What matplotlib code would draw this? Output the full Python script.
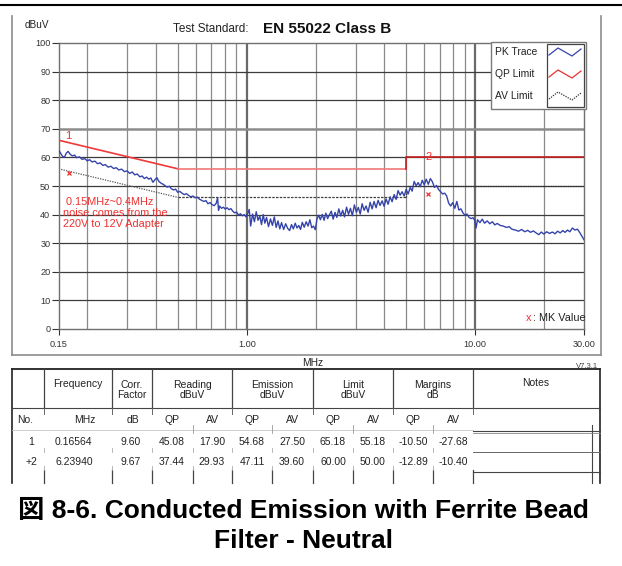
import matplotlib
matplotlib.use("Agg")

import matplotlib.pyplot as plt
from matplotlib.lines import Line2D
from matplotlib.patches import Rectangle

plt.rcParams['font.family'] = ['Liberation Sans', 'Noto Sans CJK JP']

W, H = 622, 566

# --- PK trace (MHz, dBuV) ---
pk_freq = [
    0.150, 0.153, 0.156, 0.159, 0.162, 0.165, 0.168, 0.172, 0.176, 0.180,
    0.185, 0.190, 0.195, 0.200, 0.205, 0.210, 0.216, 0.222, 0.228, 0.234,
    0.240, 0.247, 0.254, 0.261, 0.268, 0.275, 0.283, 0.291, 0.299, 0.307,
    0.315, 0.323, 0.331, 0.340, 0.348, 0.356, 0.364, 0.372, 0.380, 0.388,
    0.396, 0.404, 0.412, 0.421, 0.430, 0.439, 0.448, 0.458, 0.468, 0.478,
    0.488, 0.498, 0.509, 0.520, 0.532, 0.544, 0.556, 0.568, 0.581, 0.594,
    0.607, 0.620, 0.634, 0.648, 0.662, 0.676, 0.690, 0.705, 0.720, 0.735,
    0.745, 0.752, 0.760, 0.775, 0.790, 0.805, 0.820, 0.836, 0.852, 0.868,
    0.885, 0.902, 0.920, 0.938, 0.956, 0.975, 0.993, 1.010, 1.025, 1.040,
    1.060, 1.080, 1.100, 1.120, 1.140, 1.160, 1.180, 1.200, 1.220, 1.245,
    1.270, 1.295, 1.320, 1.345, 1.370, 1.395, 1.420, 1.450, 1.480, 1.510,
    1.540, 1.570, 1.600, 1.630, 1.660, 1.690, 1.720, 1.750, 1.785, 1.820,
    1.855, 1.890, 1.925, 1.960, 1.995, 2.030, 2.065, 2.100, 2.140, 2.180,
    2.220, 2.260, 2.300, 2.345, 2.390, 2.435, 2.480, 2.530, 2.580, 2.630,
    2.680, 2.735, 2.790, 2.845, 2.900, 2.960, 3.020, 3.080, 3.140, 3.200,
    3.265, 3.330, 3.400, 3.470, 3.540, 3.610, 3.685, 3.760, 3.835, 3.915,
    3.995, 4.075, 4.160, 4.245, 4.330, 4.420, 4.510, 4.600, 4.695, 4.790,
    4.890, 4.990, 5.090, 5.200, 5.300, 5.410, 5.520, 5.630, 5.750, 5.870,
    5.990, 6.110, 6.240, 6.370, 6.500, 6.640, 6.780, 6.920, 7.060, 7.210,
    7.360, 7.510, 7.660, 7.820, 7.980, 8.150, 8.320, 8.490, 8.670, 8.850,
    9.030, 9.220, 9.410, 9.600, 9.800, 10.00, 10.10, 10.25, 10.50, 10.75,
    11.00, 11.30, 11.60, 11.90, 12.20, 12.50, 12.90, 13.30, 13.70, 14.10,
    14.50, 15.00, 15.50, 16.00, 16.50, 17.00, 17.50, 18.00, 18.50, 19.00,
    19.50, 20.00, 20.60, 21.20, 21.80, 22.40, 23.00, 23.60, 24.20, 24.80,
    25.40, 26.00, 26.70, 27.40, 28.10, 28.70, 29.30, 30.00,
]
pk_level = [
    62.6, 61.4, 60.3, 60.1, 61.5, 62.1, 61.2, 60.5, 60.8, 59.9,
    60.2, 59.3, 59.6, 58.8, 59.2, 58.4, 58.7, 57.8, 58.1, 57.2,
    57.5, 56.6, 56.9, 56.1, 56.4, 55.6, 55.9, 55.0, 55.3, 54.4,
    54.9, 53.9, 54.2, 53.2, 53.5, 52.6, 53.1, 52.4, 52.8, 51.3,
    52.2, 52.9, 51.6, 51.0, 50.6, 50.1, 49.6, 49.9, 49.0, 48.6,
    48.9, 47.8, 48.1, 47.5, 47.0, 47.3, 46.7, 46.2, 46.5, 45.9,
    46.1, 45.4, 45.0, 44.6, 44.9, 43.8, 44.2, 43.5, 43.1, 44.0,
    45.9, 41.5, 43.0, 42.2, 42.6, 41.9, 42.4, 41.7, 42.1, 41.2,
    40.6, 40.9, 39.8, 40.3, 39.6, 40.0, 39.2, 40.5, 41.8, 36.0,
    40.2, 37.5, 41.0, 38.0, 39.5, 36.5, 40.0, 37.0, 39.0, 35.8,
    38.5, 36.2, 39.2, 35.5, 37.8, 35.0, 37.2, 34.8, 36.8, 35.2,
    34.4, 36.5, 35.0, 37.0, 35.3, 36.2, 34.8, 37.3, 35.6, 37.5,
    36.0, 38.2, 35.4, 36.0, 34.7, 38.5, 39.8, 38.2, 40.1, 38.0,
    40.5, 38.6, 39.9, 41.2, 38.4, 40.8, 39.0, 42.0, 39.5, 41.5,
    39.2, 42.6, 40.1, 42.2, 39.6, 43.4, 40.8, 42.5, 40.2, 43.8,
    41.5, 43.0, 40.8, 44.3, 42.0, 44.6, 42.4, 45.0, 43.2, 44.8,
    42.9, 45.5, 43.6, 46.2, 44.5, 47.0, 45.3, 48.4, 46.8, 48.0,
    46.5, 48.8, 47.2, 49.5, 48.2, 51.6, 50.1, 51.2, 49.8, 52.0,
    50.4, 52.4, 50.6, 52.6, 51.5, 49.5, 50.2, 48.8, 48.0, 47.2,
    47.5, 46.5, 44.0, 43.0, 44.2, 42.2, 44.6, 41.6, 42.0, 40.6,
    39.8, 40.2, 39.0, 38.6, 38.9, 37.8, 35.3, 38.2, 37.2, 38.4,
    37.0, 37.8, 36.8, 37.5, 36.4, 36.9, 36.2, 36.0, 35.5, 35.8,
    34.9, 34.6, 34.2, 34.8, 34.0, 34.5, 33.8, 34.3, 33.6, 33.0,
    33.9, 33.2, 34.0, 33.4, 33.9, 33.3, 34.2, 33.6, 34.4, 33.8,
    34.6, 34.0, 35.3, 34.6, 34.9, 33.8, 32.6, 31.2,
]

# --- EN 55022 Class B limits ---
qp_freq = [0.15, 0.5, 5.0, 5.0, 30.0]
qp_level = [66, 56, 56, 60, 60]
av_freq = [0.15, 0.5, 5.0, 5.0, 30.0]
av_level = [56, 46, 46, 50, 50]

# --- marker table ---
mk_no = ['1', '+2']
mk_freq = [0.16564, 6.23940]
corr_factor = [9.60, 9.67]
reading_qp = [45.08, 37.44]
reading_av = [17.90, 29.93]
emission_qp = [54.68, 47.11]
emission_av = [27.50, 39.60]
limit_qp = [65.18, 60.00]
limit_av = [55.18, 50.00]
margin_qp = [-10.50, -12.89]
margin_av = [-27.68, -10.40]

x_ticks = [0.15, 1.0, 10.0, 30.0]
x_tick_labels = ['0.15', '1.00', '10.00', '30.00']
y_ticks = list(range(0, 101, 10))

fig = plt.figure(figsize=(W / 100, H / 100), dpi=100)


def fx(x):
    return x / W


def fy(y):
    return 1 - y / H


def hline(x0, x1, y, **kw):
    fig.add_artist(Line2D([fx(x0), fx(x1)], [fy(y), fy(y)], **kw))


def vline(x, y0, y1, **kw):
    fig.add_artist(Line2D([fx(x), fx(x)], [fy(y0), fy(y1)], **kw))


def text(x, y, s, **kw):
    kw.setdefault('ha', 'center')
    kw.setdefault('va', 'center')
    fig.text(fx(x), fy(y), s, **kw)


# --- outer frame of the analyser panel ---
hline(0, 622, 5, color='black', lw=1.5)
vline(12, 16, 355, color='#8c8c8c', lw=1.2)
vline(601, 16, 355, color='#8c8c8c', lw=1.2)
hline(12, 601, 355, color='#8c8c8c', lw=1.2)

# --- plot area ---
ax = fig.add_axes([fx(58.7), fy(329), fx(584) - fx(58.7), fy(43) - fy(329)])
ax.set_xscale('log')
ax.set_xlim(0.15, 30)
ax.set_ylim(0, 100)

grid_freqs = [0.2, 0.3, 0.4, 0.5, 0.6, 0.7, 0.8, 0.9,
              2, 3, 4, 5, 6, 7, 8, 9, 20]
for f in grid_freqs:
    ax.axvline(f, color='#8a8a8a', lw=0.9, zorder=1)
for f in [1.0, 10.0]:
    ax.axvline(f, color='#6a6a6a', lw=1.6, zorder=1)
for lv in range(10, 100, 10):
    if lv == 70:
        ax.axhline(lv, color='#8c8c8c', lw=1.8, zorder=1)
    else:
        ax.axhline(lv, color='#3c3c3c', lw=0.9, zorder=1)

for s in ax.spines.values():
    s.set_color('#707070')
    s.set_linewidth(1.0)

ax.set_xticks(x_ticks)
ax.set_xticklabels(x_tick_labels)
ax.xaxis.set_minor_locator(matplotlib.ticker.NullLocator())
ax.set_yticks(y_ticks)
ax.tick_params(axis='both', labelsize=6.6, colors='#333333', width=0.8)
ax.tick_params(axis='y', length=5, pad=1)
ax.tick_params(axis='x', length=4, pad=4)

# limit lines
ax.plot(av_freq[:2], av_level[:2], color='#555555', lw=0.9, ls=(0, (1, 1)), zorder=2)
ax.plot(av_freq[1:3], av_level[1:3], color='#404040', lw=0.9, ls=(0, (2, 1)), zorder=2)
ax.plot(av_freq[2:], av_level[2:], color='#303030', lw=0.9, ls=(0, (1, 1)), zorder=2)
ax.plot(qp_freq[:2], qp_level[:2], color='#ee3a3a', lw=1.2, zorder=3)
ax.plot(qp_freq[1:3], qp_level[1:3], color='#f07878', lw=1.2, zorder=3)
ax.plot(qp_freq[2:], qp_level[2:], color='#c81e1e', lw=1.2, zorder=3)

# PK trace
ax.plot(pk_freq, pk_level, color='#3444aa', lw=1.0, zorder=4)

# markers
ax.plot(mk_freq, emission_qp, ls='none', marker='x', ms=3.5, mew=0.9,
        color='#ee3030', zorder=5)
ax.annotate(mk_no[0], (mk_freq[0], limit_qp[0]), xytext=(0, 1.5),
            textcoords='offset points', ha='center', va='bottom',
            color='#ee3030', fontsize=8)
ax.annotate(mk_no[1].lstrip('+'), (mk_freq[1], limit_qp[1]), ha='center',
            va='center', color='#ee3030', fontsize=8)

ax.text(0.009, 0.462, ' 0.15MHz~0.4MHz\nnoise comes from the\n220V to 12V Adapter',
        transform=ax.transAxes, color='#ee3030', fontsize=7.8,
        ha='left', va='top', linespacing=1.12, zorder=6)

ax.text(0.889, 0.038, 'x', transform=ax.transAxes, color='#ee3030',
        fontsize=7.8, ha='left', va='center')
ax.text(0.902, 0.038, ': MK Value', transform=ax.transAxes, color='#222222',
        fontsize=7.8, ha='left', va='center')

# legend box
fig.add_artist(Rectangle((fx(491), fy(109)), fx(586) - fx(491), fy(42) - fy(109),
                         facecolor='white', edgecolor='#7a7a7a', lw=1.0, zorder=10))
fig.add_artist(Rectangle((fx(547), fy(107)), fx(584) - fx(547), fy(44) - fy(107),
                         facecolor='white', edgecolor='#444444', lw=0.9, zorder=11))
legend_items = [('PK Trace', '#3444aa', '-'), ('QP Limit', '#ee3030', '-'),
                ('AV Limit', '#333333', (0, (1, 1)))]
for i, (lab, col, ls) in enumerate(legend_items):
    dy = 22 * i
    text(495, 52 + dy, lab, ha='left', fontsize=7.4, color='#222222', zorder=12)
    zx = [549, 558, 572, 581]
    zy = [55 + dy, 48 + dy, 56 + dy, 49 + dy]
    fig.add_artist(Line2D([fx(v) for v in zx], [fy(v) for v in zy],
                          color=col, lw=0.9, ls=ls, zorder=12))

# header texts
text(37, 25, 'dBuV', fontsize=7.2, color='#222222')
text(211, 29, 'Test Standard:', fontsize=8.5, color='#222222')
text(263, 29, 'EN 55022 Class B', ha='left', fontsize=11, fontweight='bold',
     color='#111111')
text(313, 363, 'MHz', fontsize=7.4, color='#222222')
text(587, 366, 'V7.3.1', fontsize=5.5, color='#444444')

# --- marker table ---
tcol = '#222222'
hline(12, 600, 369, color='#222222', lw=1.3)
vline(12, 369, 483, color='#222222', lw=1.2)
vline(600, 369, 483, color='#222222', lw=1.2)
hline(12, 600, 408, color='#444444', lw=0.8)
hline(12, 473, 430, color='#c8c8c8', lw=0.6)

main_cols = [44, 112, 152, 232, 313, 393, 473]
sub_cols = [193, 272, 353, 433]
for x in main_cols:
    vline(x, 369, 408, color='#444444', lw=0.9)
    vline(x, 408, 414, color='#666666', lw=0.7)
    vline(x, 470, 483, color='#444444', lw=0.9)
for x in sub_cols:
    vline(x, 425, 433, color='#999999', lw=0.6)
    vline(x, 470, 483, color='#444444', lw=0.9)
for x in main_cols[:-1] + sub_cols:
    for y in (450, 468):
        vline(x, y - 2, y + 2, color='#aaaaaa', lw=0.6)

# Notes column box
vline(592, 425, 483, color='#444444', lw=0.8)
hline(473, 600, 431, color='#444444', lw=0.8)
hline(473, 600, 433, color='#888888', lw=0.6)
hline(473, 600, 452, color='#666666', lw=0.7)
hline(473, 600, 472, color='#444444', lw=0.8)

fs = 7.5
text(78, 384, 'Frequency', fontsize=fs, color=tcol)
text(132, 390, 'Corr.\nFactor', fontsize=fs, color=tcol, linespacing=1.1)
text(192, 390, 'Reading\ndBuV', fontsize=fs, color=tcol, linespacing=1.1)
text(272, 390, 'Emission\ndBuV', fontsize=fs, color=tcol, linespacing=1.1)
text(353, 390, 'Limit\ndBuV', fontsize=fs, color=tcol, linespacing=1.1)
text(433, 390, 'Margins\ndB', fontsize=fs, color=tcol, linespacing=1.1)
text(536, 383, 'Notes', fontsize=fs, color=tcol)

sub_centers = [172, 212, 252, 292, 333, 373, 413, 453]
text(25, 420, 'No.', fontsize=fs, color=tcol)
text(85, 420, 'MHz', fontsize=fs, color=tcol)
text(133, 420, 'dB', fontsize=fs, color=tcol)
for cx, lab in zip(sub_centers, ['QP', 'AV'] * 4):
    text(cx, 420, lab, fontsize=fs, color=tcol)

for i, ry in enumerate([442, 462]):
    vals = [reading_qp[i], reading_av[i], emission_qp[i], emission_av[i],
            limit_qp[i], limit_av[i], margin_qp[i], margin_av[i]]
    text(31, ry, mk_no[i], fontsize=fs, color=tcol)
    text(55, ry, f'{mk_freq[i]:.5f}', ha='left', fontsize=fs, color=tcol)
    text(131, ry, f'{corr_factor[i]:.2f}', fontsize=fs, color=tcol)
    for cx, v in zip(sub_centers, vals):
        text(cx, ry, f'{v:.2f}', fontsize=fs, color=tcol)

# caption
text(303, 511, '図 8-6. Conducted Emission with Ferrite Bead', fontsize=19,
     fontweight='bold', color='black')
text(303, 541, 'Filter - Neutral', fontsize=19, fontweight='bold', color='black')

fig.savefig('out.png', dpi=100)
